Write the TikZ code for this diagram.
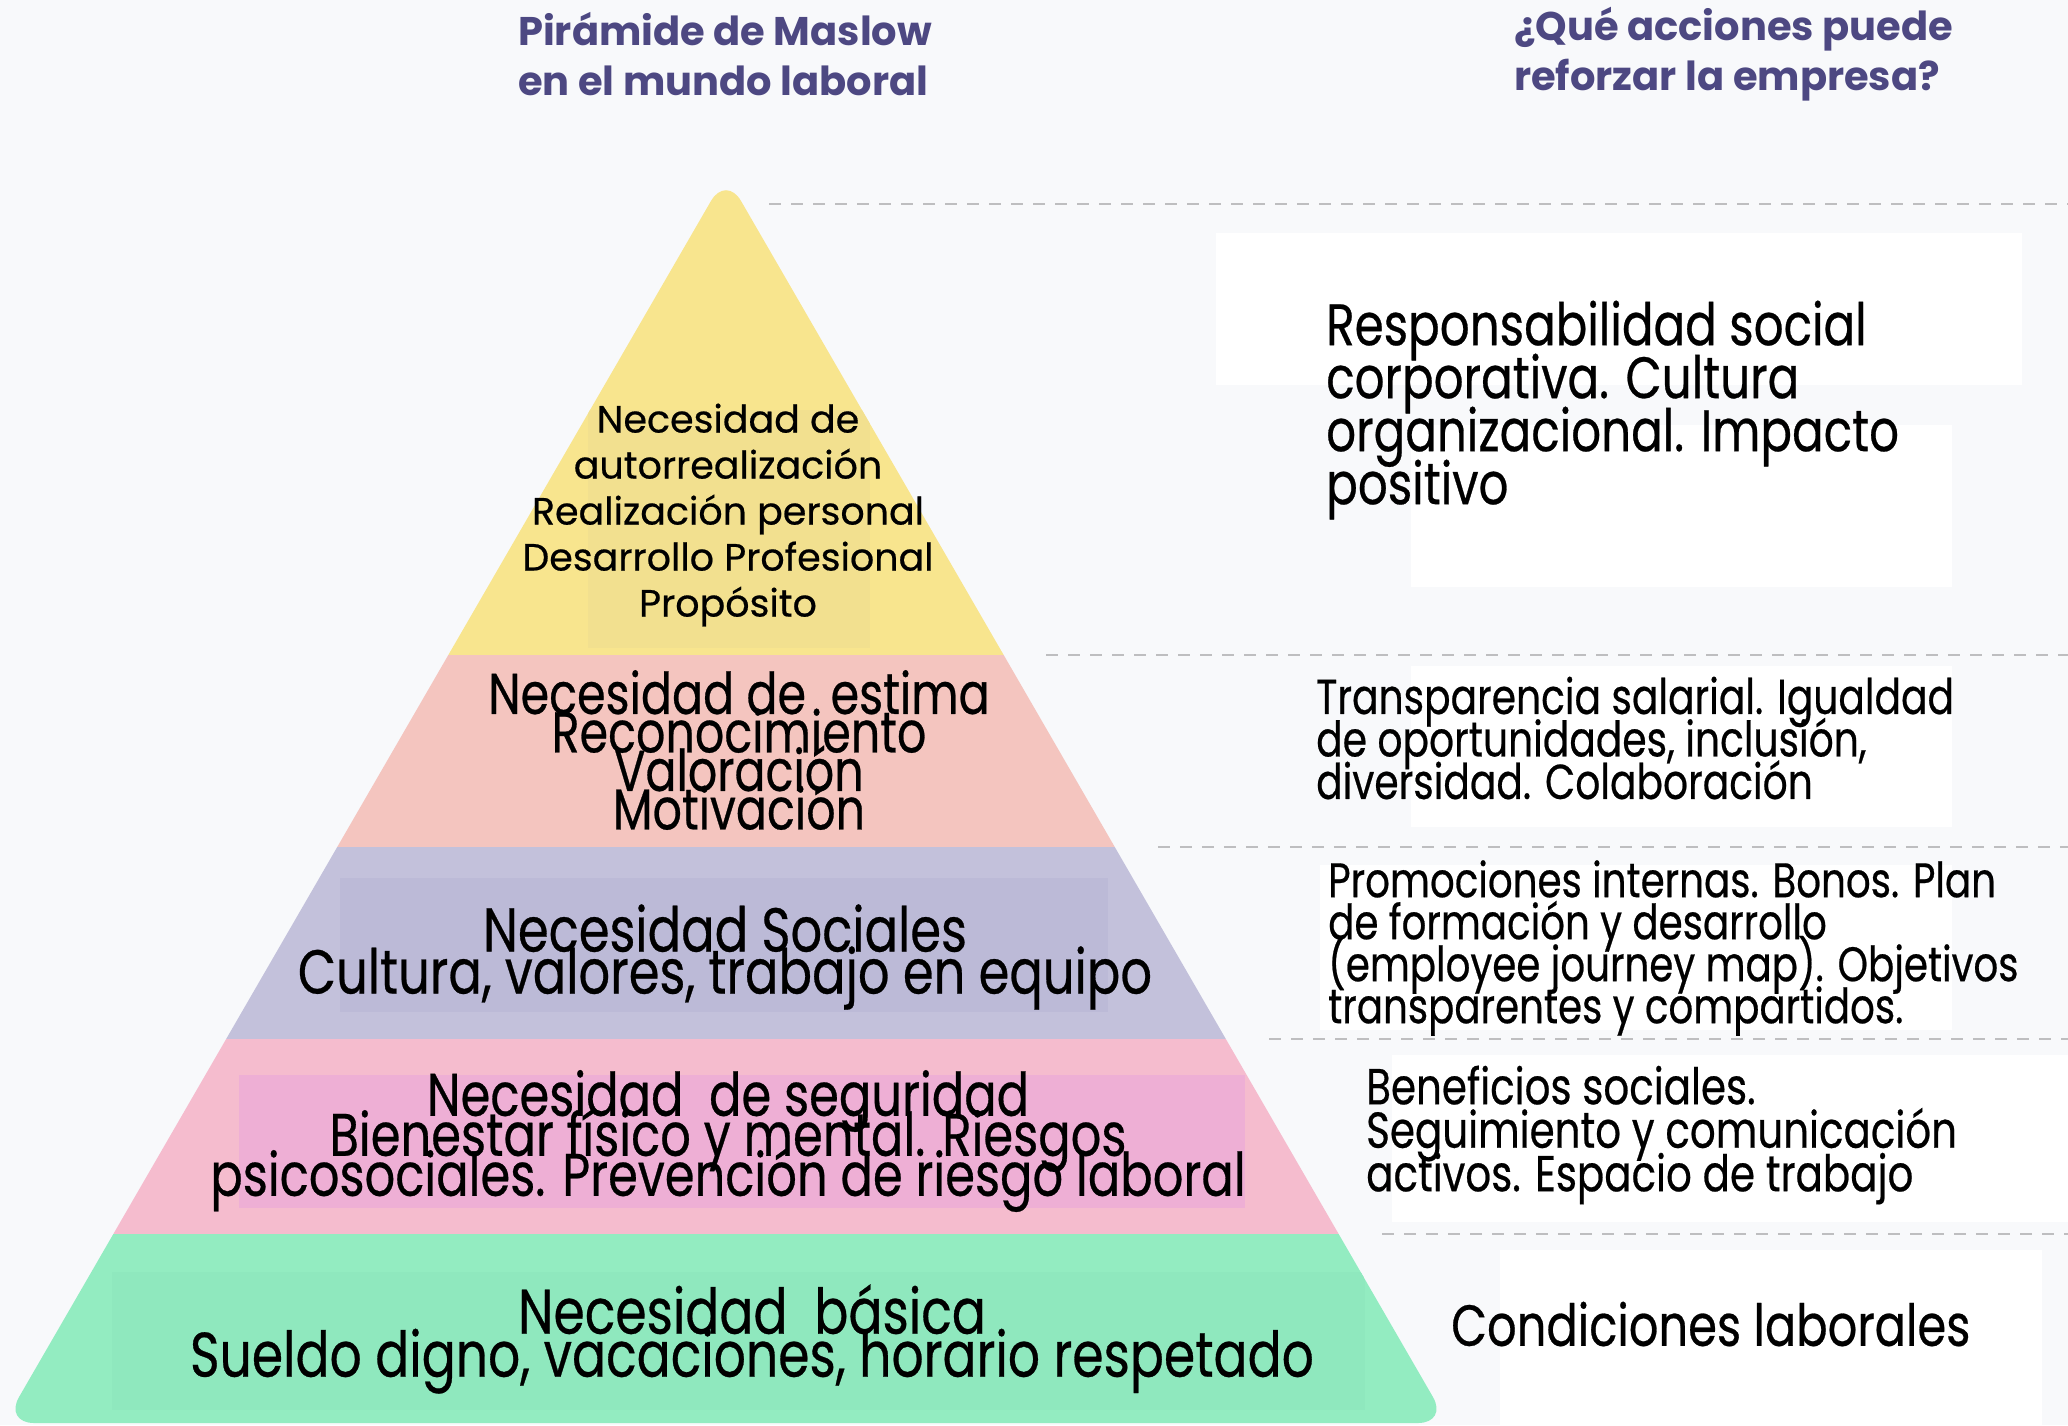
\documentclass[tikz,border=0pt]{standalone}
\usepackage{fontspec}
\setmainfont{Poppins}
\newfontfamily\titlefont{Poppins}
\newfontfamily\peakfont{Poppins}[FakeBold=0.5]
\newfontfamily\bodyfont{Poppins}[FakeStretch=0.8,FakeBold=0.45]
\newcommand\tightlines{\lineskiplimit=-1000pt\lineskip=0pt}

\definecolor{pagebg}{RGB}{248,249,251}
\definecolor{headcol}{RGB}{77,72,130}
\definecolor{guidecol}{RGB}{190,190,192}
\definecolor{yellowlayer}{RGB}{248,229,142}
\definecolor{yellowbox}{RGB}{242,224,143}
\definecolor{salmonlayer}{RGB}{244,197,191}
\definecolor{lavenderlayer}{RGB}{195,193,219}
\definecolor{lavenderbox}{RGB}{188,186,215}
\definecolor{pinklayer}{RGB}{245,188,206}
\definecolor{pinkbox}{RGB}{238,175,213}
\definecolor{greenlayer}{RGB}{147,236,193}
\definecolor{greenbox}{RGB}{143,232,190}

\tikzset{
  headtext/.style={inner sep=0pt, anchor=west, align=left, text=headcol,
    font=\titlefont\bfseries\fontsize{40}{50}\selectfont},
  layertext/.style={inner sep=0pt, align=center, text=black},
  actiontext/.style={inner sep=0pt, anchor=west, align=left, text=black},
  guide/.style={draw=guidecol, line width=2.5pt, dash pattern=on 12pt off 10pt},
}

\begin{document}
\begin{tikzpicture}[x=1pt,y=-1pt]
  \useasboundingbox (0,0) rectangle (2068,1425);
  \fill[pagebg] (0,0) rectangle (2068,1425);

  % white panels behind the actions
  \fill[white] (1216,233) rectangle (2022,385);
  \fill[white] (1411,425) rectangle (1952,587);
  \fill[white] (1411,666) rectangle (1952,827);
  \fill[white] (1320,865) rectangle (1952,1030);
  \fill[white] (1392,1055) rectangle (2068,1222);
  \fill[white] (1500,1250) rectangle (2042,1425);

  % pyramid, cut into five layers
  \begin{scope}
    \clip[rounded corners=30pt] (726,175) -- (1448,1423) -- (4,1423) -- cycle;
    \fill[yellowlayer] (0,150) rectangle (1460,655);
    \fill[salmonlayer] (0,655) rectangle (1460,847);
    \fill[lavenderlayer] (0,847) rectangle (1460,1039);
    \fill[pinklayer] (0,1039) rectangle (1460,1234);
    \fill[greenlayer] (0,1234) rectangle (1460,1430);
    \fill[yellowbox] (588,410) rectangle (870,648);
    \fill[lavenderbox] (340,878) rectangle (1108,1012);
    \fill[pinkbox] (239,1075) rectangle (1245,1208);
    \fill[greenbox] (112,1272) rectangle (1365,1410);
  \end{scope}

  % dashed guides to the right of each layer
  \draw[guide] (769,204) -- (2068,204);
  \foreach \ly in {655,847,1039,1234}
    \draw[guide] ({768+0.58*(\ly-175)},\ly) -- (2068,\ly);

  % headings
  \node[headtext] (pyrhead) at (518,54) {Pirámide de Maslow\\en el mundo laboral};
  \node[headtext] (acthead) at (1514,54) {¿Qué acciones puede\\reforzar la empresa?};

  % needs
  \node[layertext, font=\peakfont\fontsize{38}{46}\selectfont\tightlines] (selfneed) at (728,515)
    {Necesidad de\\autorrealización\\Realización personal\\Desarrollo Profesional\\Propósito};
  \node[layertext, font=\bodyfont\fontsize{57.5}{38.5}\selectfont\tightlines] (esteemneed) at (739,750)
    {Necesidad de\ \ estima\\Reconocimiento\\Valoración\\Motivación};
  \node[layertext, font=\bodyfont\fontsize{62}{42}\selectfont\tightlines] (socialneed) at (725,957)
    {Necesidad Sociales\\Cultura, valores, trabajo en equipo};
  \node[layertext, font=\bodyfont\fontsize{60}{40}\selectfont\tightlines] (safeneed) at (728,1141)
    {Necesidad\ \ de seguridad\\Bienestar físico y mental. Riesgos\\psicosociales. Prevención de riesgo laboral};
  \node[layertext, font=\bodyfont\fontsize{63}{43}\selectfont\tightlines] (basicneed) at (752,1339)
    {Necesidad\ \ básica\\Sueldo digno, vacaciones, horario respetado};

  % actions
  \node[actiontext, font=\bodyfont\fontsize{58.5}{53}\selectfont\tightlines] (selfact) at (1326,410)
    {Responsabilidad social\\corporativa. Cultura\\organizacional. Impacto\\positivo};
  \node[actiontext, font=\bodyfont\fontsize{49}{42.5}\selectfont\tightlines] (esteemact) at (1316,738)
    {Transparencia salarial. Igualdad\\de oportunidades, inclusión,\\diversidad. Colaboración};
  \node[actiontext, font=\bodyfont\fontsize{48.5}{42}\selectfont\tightlines] (socialact) at (1328,948)
    {Promociones internas. Bonos. Plan\\de formación y desarrollo\\(employee journey map). Objetivos\\transparentes y compartidos.};
  \node[actiontext, font=\bodyfont\fontsize{50.5}{43.5}\selectfont\tightlines] (safeact) at (1366,1135)
    {Beneficios sociales.\\Seguimiento y comunicación\\activos. Espacio de trabajo};
  \node[actiontext, font=\bodyfont\fontsize{58}{52}\selectfont\tightlines] (basicact) at (1451,1324)
    {Condiciones laborales};
\end{tikzpicture}
\end{document}
